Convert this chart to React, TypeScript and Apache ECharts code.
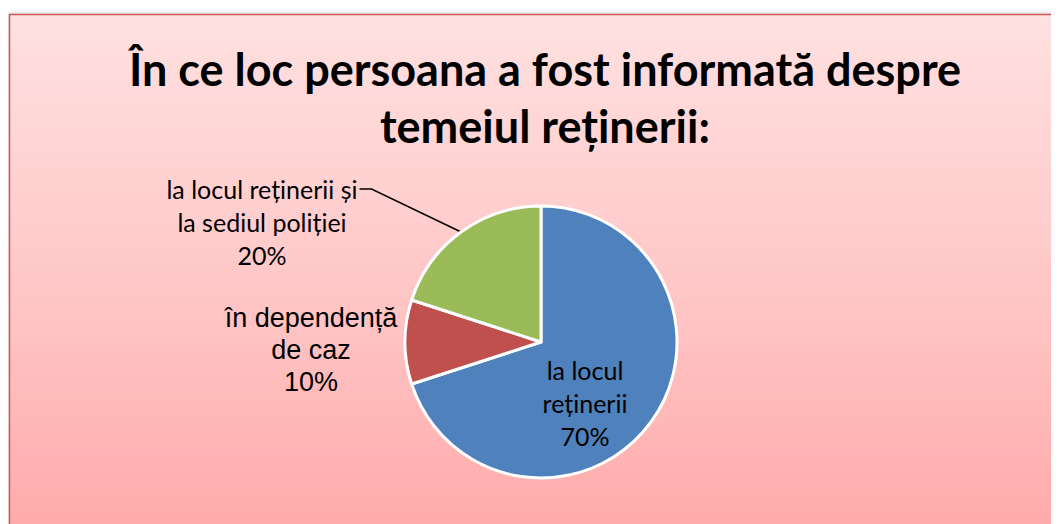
import React, { useEffect, useRef } from "react";
import * as echarts from "echarts";

const titleLines = ["În ce loc persoana a fost informată despre", "temeiul reținerii:"];
const categories = ["la locul\nreținerii", "în dependență\nde caz", "la locul reținerii și\nla sediul poliției"];
const values = [70, 10, 20];
const colors = ["#4f81bd", "#c0504d", "#9bbb59"];
// label anchor positions (container px)
const labelPos = [
  [577, 395],
  [303, 342],
  [254, 214],
];

export default function App() {
  const ref = useRef<HTMLDivElement>(null);
  useEffect(() => {
    const chart = echarts.init(ref.current!, undefined, { renderer: "svg" });
    const total = values.reduce((a, b) => a + b, 0);
    const lh = 33;
    const calibriLike = { fontFamily: "Lato", fontSize: 25, lineHeight: lh };
    chart.setOption({
      animation: false,
      backgroundColor: "#ffffff",
      title: {
        text: titleLines.join("\n"),
        left: 532,
        top: 27,
        textAlign: "center",
        textStyle: {
          fontFamily: "Lato",
          fontWeight: "bold",
          fontSize: 45,
          lineHeight: 57,
          color: "#000",
        },
      },
      graphic: [
        {
          type: "rect",
          z: -10,
          shape: { x: 1.5, y: 6.5, width: 1100, height: 600 },
          style: {
            fill: new echarts.graphic.LinearGradient(0, 0, 0, 1, [
              { offset: 0, color: "#ffe1e1" },
              { offset: 0.5, color: "#ffc4c4" },
              { offset: 1, color: "#ffa0a0" },
            ]),
            stroke: "#d0595a",
            lineWidth: 1.5,
            shadowBlur: 4,
            shadowColor: "rgba(0,0,0,0.25)",
          },
        },
      ],
      series: [
        {
          type: "pie",
          z: 2,
          center: [533, 334],
          radius: 136,
          startAngle: 90,
          clockwise: true,
          data: categories.map((c, i) => ({
            name: c,
            value: values[i],
            itemStyle: { color: colors[i] },
            labelLine: { show: i === 2 },
            label: i === 1 ? { fontFamily: "Liberation Sans", fontSize: 27, lineHeight: 32 } : calibriLike,
          })),
          itemStyle: { borderColor: "#ffffff", borderWidth: 3 },
          label: {
            show: true,
            position: "outside",
            formatter: (p: any) => `${p.name}\n${Math.round((p.value / total) * 100)}%`,
            color: "#000",
            align: "center",
          },
          labelLine: { show: true, length: 10, length2: 12, lineStyle: { color: "#000", width: 1.5 } },
          labelLayout: (p: any) => {
            const [x, y] = labelPos[p.dataIndex];
            const out: any = { x, y, align: "center", verticalAlign: "middle", hideOverlap: false };
            if (p.dataIndex === 2 && p.labelLinePoints) {
              const anchor = p.labelLinePoints[0];
              const right = x + p.labelRect.width / 2;
              const firstY = y - (p.labelRect.height / 2) + lh / 2;
              out.labelLinePoints = [anchor, [right + 14, firstY], [right + 2, firstY]];
            }
            return out;
          },
        },
      ],
    });
    return () => chart.dispose();
  }, []);
  return <div ref={ref} style={{ width: 1051, height: 516 }} />;
}
